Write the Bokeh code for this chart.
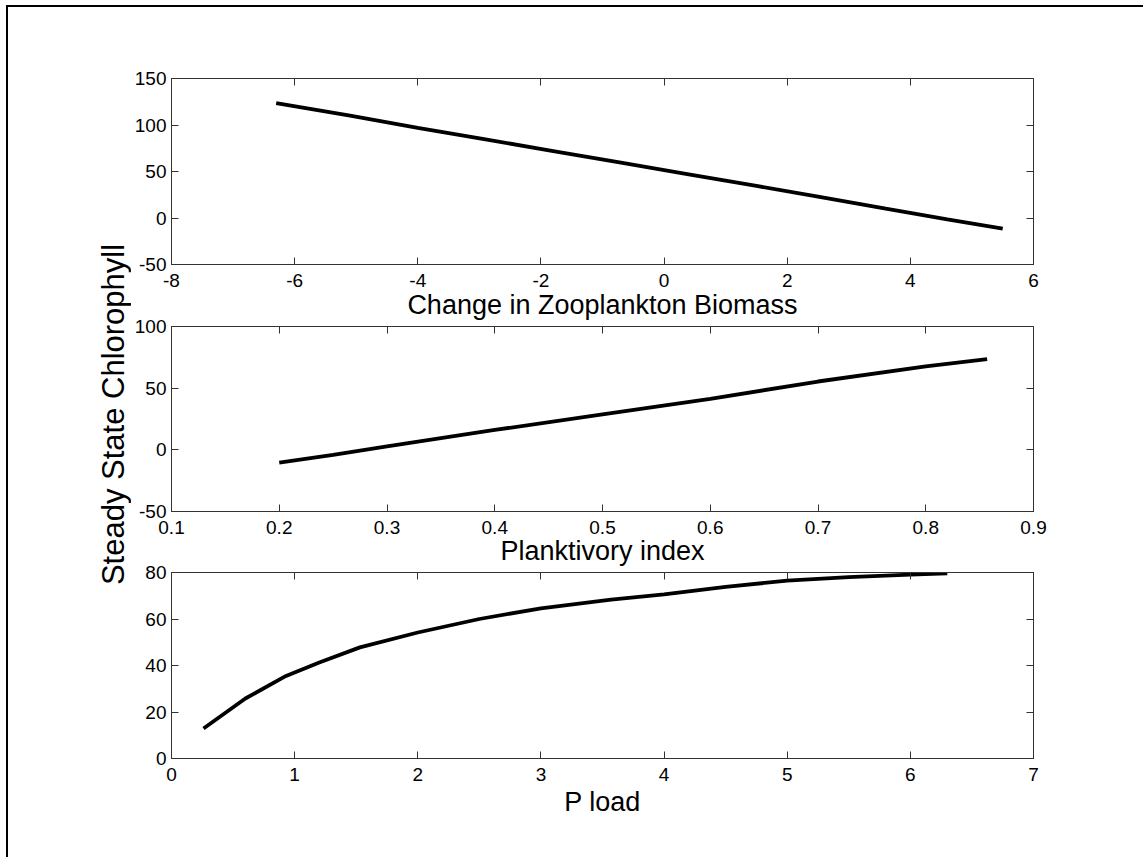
from bokeh.plotting import figure
from bokeh.models import LinearAxis, FixedTicker, Range1d, Label, CustomLabelingPolicy
from bokeh.layouts import column, row
from bokeh.embed import file_html
from bokeh.resources import INLINE

# ---- data ----
zoo_x = [-6.3, -5.1, -4.0, -2.9, -1.8, -0.7, 0.4, 1.5, 2.5, 3.6, 4.6, 5.5]
zoo_y = [123.5, 110.0, 97.0, 84.5, 72.0, 59.5, 47.0, 34.5, 23.0, 10.0, -1.5, -11.5]

plank_x = [0.2, 0.25, 0.3, 0.4, 0.5, 0.6, 0.7, 0.8, 0.857]
plank_y = [-10.4, -4.1, 2.9, 16.1, 28.7, 41.3, 55.4, 67.6, 73.5]

pload_x = [0.26, 0.6, 0.93, 1.2, 1.53, 2.0, 2.5, 3.0, 3.57, 4.0, 4.5, 5.0, 5.5, 6.0, 6.3]
pload_y = [12.9, 25.8, 35.5, 41.3, 47.8, 54.2, 60.0, 64.6, 68.3, 70.6, 73.8, 76.5, 78.0, 79.1, 79.6]

zoo_xticks = [-8, -6, -4, -2, 0, 2, 4, 6]
zoo_yticks = [-50, 0, 50, 100, 150]
plank_xticks = [0.1, 0.2, 0.3, 0.4, 0.5, 0.6, 0.7, 0.8, 0.9]
plank_yticks = [-50, 0, 50, 100]
pload_xticks = [0, 1, 2, 3, 4, 5, 6, 7]
pload_yticks = [0, 20, 40, 60, 80]

x_labels = ["Change in Zooplankton Biomass", "Planktivory index", "P load"]
y_label = "Steady State Chlorophyll"

FONT = "Liberation Sans"
TICK_SIZE = "19px"
LABEL_SIZE = "27px"
AX_COLOR = "#333333"

FRAME_W = 862
LEFT_W = 123
LEFT_B = 37
RIGHT_B = 110


def style_axis(ax, ticks, show_labels, standoff=7):
    ax.ticker = FixedTicker(ticks=ticks)
    ax.minor_tick_line_color = None
    ax.major_tick_in = 7
    ax.major_tick_out = 0
    ax.major_tick_line_color = AX_COLOR
    ax.axis_line_color = AX_COLOR
    ax.major_label_text_font = FONT
    ax.major_label_text_color = "black"
    ax.axis_label_text_font = FONT
    ax.axis_label_text_font_size = LABEL_SIZE
    ax.axis_label_text_font_style = "normal"
    ax.axis_label_text_color = "black"
    if show_labels:
        ax.major_label_overrides = {t: str(t) for t in ticks}
        ax.major_label_text_font_size = TICK_SIZE
        ax.major_label_standoff = standoff
    else:
        # box-style ticks only: no labels drawn on top / right
        ax.major_label_policy = CustomLabelingPolicy(code="return new Set()")
        ax.major_label_text_font_size = "1px"
        ax.major_label_standoff = 0


def make_panel(xs, ys, xr, yr, xt, yt, frame_h, top, bottom, label_above=None, label_below=None):
    p = figure(frame_width=FRAME_W, frame_height=frame_h,
               x_range=Range1d(*xr), y_range=Range1d(*yr),
               output_backend="svg", toolbar_location=None,
               min_border_left=LEFT_B, min_border_right=RIGHT_B,
               min_border_top=top, min_border_bottom=bottom)
    p.grid.visible = False
    p.outline_line_color = AX_COLOR
    p.background_fill_color = "white"
    p.border_fill_alpha = 0
    style_axis(p.xaxis[0], xt, True, standoff=9)
    style_axis(p.yaxis[0], yt, True, standoff=5)
    if label_below:
        p.xaxis.axis_label = label_below
        p.xaxis.axis_label_standoff = 3
    top_ax = LinearAxis()
    style_axis(top_ax, xt, False)
    if label_above:
        top_ax.axis_label = label_above
        top_ax.axis_label_standoff = 3
    p.add_layout(top_ax, "above")
    right_ax = LinearAxis()
    style_axis(right_ax, yt, False)
    p.add_layout(right_ax, "right")
    p.line(xs, ys, line_color="black", line_width=3.8)
    return p


# the label under each upper panel sits in the top margin of the panel below it
p1 = make_panel(zoo_x, zoo_y, (-8, 6), (-50, 150), zoo_xticks, zoo_yticks,
                186, 71, 20)
p2 = make_panel(plank_x, plank_y, (0.1, 0.9), (-50, 100), plank_xticks, plank_yticks,
                185, 20, 20, label_above=x_labels[0])
p3 = make_panel(pload_x, pload_y, (0, 7), (0, 80), pload_xticks, pload_yticks,
                186, 20, 100, label_above=x_labels[1], label_below=x_labels[2])
# let the transparent margins of the lower panels overlap the one above slightly
p2.margin = (-3, 0, 0, 0)
p3.margin = (-4, 0, 0, 0)

lab_h = 846
lab = figure(width=LEFT_W, height=lab_h, x_range=Range1d(0, 1), y_range=Range1d(0, 1),
             output_backend="svg", toolbar_location=None, min_border=0)
lab.axis.visible = False
lab.grid.visible = False
lab.outline_line_color = None
lab.add_layout(Label(x=105, y=lab_h - 407, x_units="screen", y_units="screen",
                     text=y_label, angle=1.5707963, angle_units="rad",
                     text_align="center", text_baseline="middle",
                     text_font=FONT, text_font_size="31px", text_color="black"))

layout = row(lab, column(p1, p2, p3, spacing=0), spacing=0, margin=(5, 0, 0, 6),
             styles={"border-left": "2px solid black", "border-top": "2px solid black"})

open("out.html", "w").write(file_html(layout, INLINE))
